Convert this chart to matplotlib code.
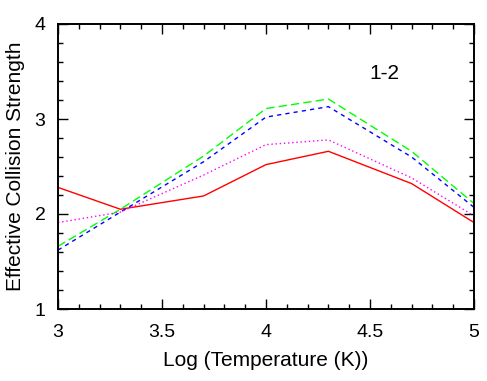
import matplotlib
matplotlib.use("Agg")
import matplotlib.pyplot as plt
from matplotlib.ticker import MultipleLocator

plt.rcParams["font.family"] = ["Liberation Sans", "DejaVu Sans"]

log_temp = [3.0, 3.3, 3.7, 4.0, 4.3, 4.7, 5.0]
red_vals = [2.28, 2.05, 2.19, 2.52, 2.66, 2.32, 1.91]
magenta_vals = [1.91, 2.02, 2.41, 2.73, 2.78, 2.38, 1.98]
blue_vals = [1.62, 2.02, 2.55, 3.02, 3.13, 2.60, 2.07]
green_vals = [1.66, 2.05, 2.61, 3.11, 3.21, 2.66, 2.11]

fig = plt.figure(figsize=(4.87, 3.81), dpi=100)
ax = fig.add_axes([58 / 487, 1 - 309 / 381, 416 / 487, 285 / 381])

ax.plot(log_temp, red_vals, color="#ff0000", linewidth=1.0, linestyle="-")
ax.plot(log_temp, green_vals, color="#00ff00", linewidth=1.0, linestyle=(0, (6, 3)))
ax.plot(log_temp, blue_vals, color="#0000ff", linewidth=1.0, linestyle=(0, (3, 3)))
ax.plot(log_temp, magenta_vals, color="#ff00ff", linewidth=1.0, linestyle=(0, (1, 2)))

ax.set_xlim(3, 5)
ax.set_ylim(1, 4)
ax.xaxis.set_major_locator(MultipleLocator(0.5))
ax.xaxis.set_minor_locator(MultipleLocator(0.1))
ax.yaxis.set_major_locator(MultipleLocator(1))
ax.yaxis.set_minor_locator(MultipleLocator(0.2))
ax.xaxis.set_major_formatter(plt.FuncFormatter(lambda v, p: f"{v:g}"))
ax.tick_params(which="both", direction="in", top=True, right=True, labelsize=14)
ax.tick_params(which="major", length=7, width=1)
ax.tick_params(which="minor", length=3.6, width=1)
ax.tick_params(axis="x", pad=11)
ax.tick_params(axis="y", pad=9)
for spine in ax.spines.values():
    spine.set_linewidth(1.4)

ax.set_xlabel("Log (Temperature (K))", fontsize=15, labelpad=7)
ax.set_ylabel("Effective Collision Strength", fontsize=15, labelpad=7)
ax.text(4.57, 3.48, "1-2", fontsize=15, ha="center", va="center")

fig.savefig("out.png", dpi=100)
